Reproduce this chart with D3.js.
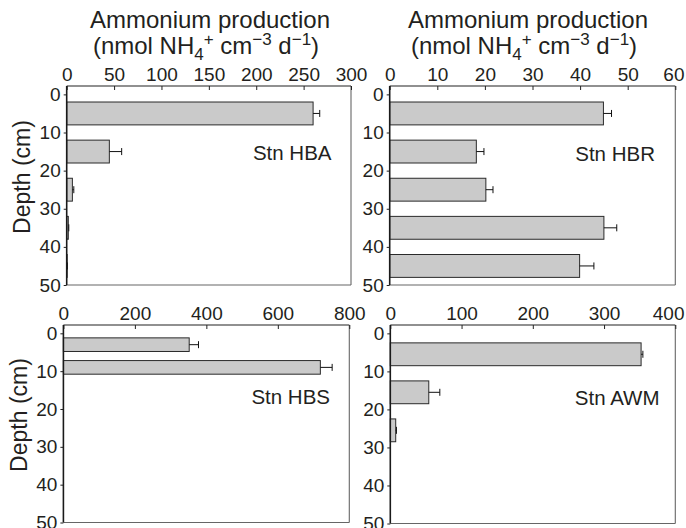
<!DOCTYPE html>
<html>
<head>
<meta charset="utf-8">
<script src="https://cdn.jsdelivr.net/npm/d3@7"></script>
<style>
  html, body { margin: 0; padding: 0; background: #fff; }
  svg { display: block; font-family: "Liberation Sans", Arial, Helvetica, sans-serif; }
</style>
</head>
<body>
<svg id="chart" width="686" height="528"></svg>
<script>
// ---- Data ----
const depthTicks = [0, 10, 20, 30, 40, 50];

const hbaTicks = [0, 50, 100, 150, 200, 250, 300];
const hbaDepth = [5, 15, 25, 35, 45];
const hbaValue = [260, 45, 6, 1.7, 0.5];
const hbaError = [7, 13, 1.5, 0.5, 0.2];
const hbaInterval = 10;

const hbrTicks = [0, 10, 20, 30, 40, 50, 60];
const hbrDepth = [5, 15, 25, 35, 45];
const hbrValue = [44.9, 18.2, 20.2, 45.0, 39.9];
const hbrError = [1.7, 1.6, 1.5, 2.7, 3.0];
const hbrInterval = 10;

const hbsTicks = [0, 200, 400, 600, 800];
const hbsDepth = [3, 9];
const hbsValue = [352, 719];
const hbsError = [26, 33];
const hbsInterval = 6;

const awmTicks = [0, 100, 200, 300, 400];
const awmDepth = [5.5, 15.5, 25.5];
const awmValue = [352, 54, 7.6];
const awmError = [2.5, 15.5, 1];
const awmInterval = 10;

const stationNames = ["Stn HBA", "Stn HBR", "Stn HBS", "Stn AWM"];

// ---- Layout ----
const panels = [
  { name: stationNames[0], ticks: hbaTicks, depth: hbaDepth, value: hbaValue, error: hbaError, interval: hbaInterval,
    x0: 66.7, x1: 351, y0: 86, y1: 285, lx: 331.5, ly: 160, title: true, tcx: 208, ylab: 177, ylabX: 30 },
  { name: stationNames[1], ticks: hbrTicks, depth: hbrDepth, value: hbrValue, error: hbrError, interval: hbrInterval,
    x0: 389.7, x1: 675.3, y0: 86, y1: 285, lx: 655, ly: 160.5, title: true, tcx: 526, ylab: null },
  { name: stationNames[2], ticks: hbsTicks, depth: hbsDepth, value: hbsValue, error: hbsError, interval: hbsInterval,
    x0: 63.4, x1: 349.3, y0: 325, y1: 522.5, lx: 330, ly: 403.5, title: false, ylab: 415, ylabX: 26.5 },
  { name: stationNames[3], ticks: awmTicks, depth: awmDepth, value: awmValue, error: awmError, interval: awmInterval,
    x0: 390.3, x1: 675.3, y0: 325, y1: 523.5, lx: 659.5, ly: 405, title: false, ylab: null }
];

const svg = d3.select("#chart");
const textColor = "#231f20";
const W = 686;

panels.forEach(p => {
  const x = d3.scaleLinear().domain([p.ticks[0], p.ticks[p.ticks.length - 1]]).range([p.x0, p.x1]);
  const y = d3.scaleLinear().domain([-2.2, 50]).range([p.y0, p.y1]);
  const g = svg.append("g");

  // frame: right & bottom borders (gray)
  g.append("line").attr("x1", p.x1).attr("x2", p.x1).attr("y1", p.y0).attr("y2", p.y1)
    .attr("stroke", "#666").attr("stroke-width", 1.1);
  g.append("line").attr("x1", p.x0).attr("x2", p.x1).attr("y1", p.y1).attr("y2", p.y1)
    .attr("stroke", "#666").attr("stroke-width", 1.1);

  // bars
  const barH = p.interval * 0.6;
  const data = p.depth.map((d, i) => ({ d, v: p.value[i], e: p.error[i] }));
  g.selectAll("rect.bar").data(data).enter().append("rect")
    .attr("class", "bar")
    .attr("x", x(0))
    .attr("y", d => y(d.d - barH / 2))
    .attr("width", d => x(d.v) - x(0))
    .attr("height", d => y(d.d + barH / 2) - y(d.d - barH / 2))
    .attr("fill", "#cacaca")
    .attr("stroke", "#2a2a2a")
    .attr("stroke-width", 1);

  // error bars
  const eb = g.selectAll("g.err").data(data).enter().append("g").attr("class", "err");
  eb.append("line")
    .attr("x1", d => x(d.v)).attr("x2", d => x(d.v + d.e))
    .attr("y1", d => y(d.d)).attr("y2", d => y(d.d))
    .attr("stroke", "#111").attr("stroke-width", 1);
  eb.append("line")
    .attr("x1", d => x(d.v + d.e)).attr("x2", d => x(d.v + d.e))
    .attr("y1", d => y(d.d) - 3.5).attr("y2", d => y(d.d) + 3.5)
    .attr("stroke", "#111").attr("stroke-width", 1);

  // top axis
  const ax = g.append("g").attr("transform", `translate(0,${p.y0})`)
    .call(d3.axisTop(x).tickValues(p.ticks).tickSize(-4).tickPadding(5).tickFormat(d3.format("d")));
  ax.select(".domain").remove();
  ax.selectAll(".tick line").attr("stroke", "#222");
  ax.selectAll(".tick text").attr("font-size", 19).attr("fill", textColor)
    .attr("font-family", "Liberation Sans, Arial, sans-serif");
  // keep the last label inside the page, as in the reference
  ax.selectAll(".tick").each(function (d) {
    const t = d3.select(this).select("text");
    const bb = t.node().getBBox();
    const right = x(d) + bb.width / 2;
    if (right > W - 2) {
      t.attr("text-anchor", "end").attr("x", (W - 2) - x(d));
    }
  });
  g.append("line").attr("x1", p.x0).attr("x2", p.x1).attr("y1", p.y0).attr("y2", p.y0)
    .attr("stroke", "#222").attr("stroke-width", 1.2);

  // left axis
  const ay = g.append("g").attr("transform", `translate(${p.x0},0)`)
    .call(d3.axisLeft(y).tickValues(depthTicks).tickSize(3).tickPadding(3).tickFormat(d3.format("d")));
  ay.select(".domain").remove();
  ay.selectAll(".tick line").attr("stroke", "#222");
  ay.selectAll(".tick text").attr("font-size", 19).attr("fill", textColor)
    .attr("font-family", "Liberation Sans, Arial, sans-serif");
  g.append("line").attr("x1", p.x0).attr("x2", p.x0).attr("y1", p.y0).attr("y2", p.y1)
    .attr("stroke", "#1a1a1a").attr("stroke-width", 1.6);

  // station label
  g.append("text").attr("x", p.lx).attr("y", p.ly).attr("text-anchor", "end")
    .attr("font-size", 20.5).attr("fill", textColor).text(p.name);

  // title
  if (p.title) {
    g.append("text").attr("x", p.tcx + 2).attr("y", 28).attr("text-anchor", "middle")
      .attr("font-size", 24).attr("fill", textColor).text("Ammonium production");
    const t2 = g.append("text").attr("x", p.tcx - 2).attr("y", 54).attr("text-anchor", "middle")
      .attr("font-size", 24).attr("fill", textColor);
    t2.append("tspan").text("(nmol NH");
    t2.append("tspan").attr("font-size", 17).attr("dy", 6).text("4");
    t2.append("tspan").attr("font-size", 17).attr("dy", -15).text("+");
    t2.append("tspan").attr("dy", 9).text(" cm");
    t2.append("tspan").attr("font-size", 17).attr("dy", -9).text("\u22123");
    t2.append("tspan").attr("dy", 9).text(" d");
    t2.append("tspan").attr("font-size", 17).attr("dy", -9).text("\u22121");
    t2.append("tspan").attr("dy", 9).text(")");
  }

  // depth label
  if (p.ylab !== null) {
    g.append("text").attr("transform", `translate(${p.ylabX},${p.ylab}) rotate(-90)`)
      .attr("text-anchor", "middle").attr("font-size", 23).attr("fill", textColor).text("Depth (cm)");
  }
});
</script>
</body>
</html>
